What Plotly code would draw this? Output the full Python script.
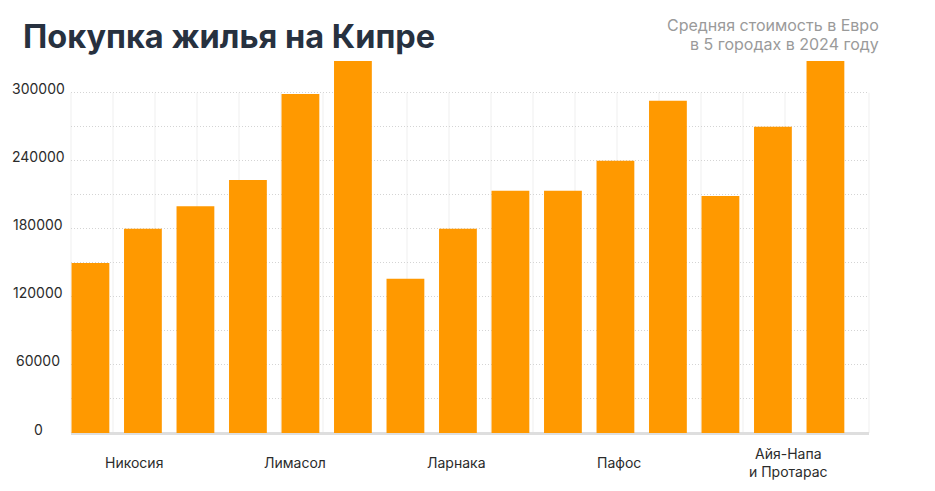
import plotly.graph_objects as go

# average purchase prices, EUR, three bars per city
prices = [150000, 180000, 200000, 223000, 299000, 330000,
          136000, 180000, 213500, 213500, 240000, 293000,
          209000, 270000, 330000]
bar_index = list(range(len(prices)))

cities = ["Никосия", "Лимасол", "Ларнака", "Пафос", "Айя-Напа<br>и Протарас"]
city_pos = [0.83, 3.9, 6.98, 10.07, 13.3]

y_ticks = [0, 60000, 120000, 180000, 240000, 300000]

subtitle = ["Средняя стоимость в Евро", "в 5 городах в 2024 году"]

ORANGE = "#ff9900"
TITLE_COLOR = "#27313f"
TEXT_COLOR = "#2b2b2b"
FONT = "Inter"

W, H = 935, 491
L, R, T, B = 71, 66, 61, 58
plot_w, plot_h = W - L - R, H - T - B

def px_to_paper(x_px, y_px):
    return (x_px - L) / plot_w, (H - B - y_px) / plot_h

fig = go.Figure()

fig.add_bar(x = bar_index, y = prices,
            marker = dict(color = ORANGE, line = dict(width = 0)),
            hoverinfo = "y")

# city names under the groups
for name, pos in zip(cities, city_pos):
    fig.add_annotation(x = pos, y = 0, xref = "x", yref = "y",
                       text = name, showarrow = False,
                       xanchor = "center", yanchor = "middle", yshift = -29,
                       font = dict(family = FONT, size = 14, color = TEXT_COLOR))

# y labels are centred in the left margin, not right aligned
label_x, _ = px_to_paper(38, 0)
for v in y_ticks:
    fig.add_annotation(x = label_x, y = v, xref = "paper", yref = "y",
                       text = str(v), showarrow = False,
                       xanchor = "center", yanchor = "middle", yshift = 4,
                       font = dict(family = FONT, size = 14, color = TEXT_COLOR))

# faint vertical grid, it only goes up to the 300000 line
for i in range(20):
    fig.add_shape(type = "line", xref = "paper", yref = "y",
                  x0 = i / 19, x1 = i / 19, y0 = 0, y1 = 300000,
                  line = dict(color = "#efefef", width = 1), layer = "below")

# two-line note top right, each line placed on its own
for line, y_px in zip(subtitle, [25, 44]):
    ax, ay = px_to_paper(881, y_px)
    fig.add_annotation(xref = "paper", yref = "paper", x = ax, y = ay,
                       text = line, showarrow = False, xanchor = "right", yanchor = "middle",
                       font = dict(family = FONT, size = 16, color = "#9a9a9a"))

fig.update_layout(
    width = W, height = H,
    margin = dict(l = L, r = R, t = T, b = B),
    paper_bgcolor = "white", plot_bgcolor = "white",
    bargap = 0.28, showlegend = False,
    title = dict(text = "<b>Покупка жилья на Кипре</b>",
                 x = 23 / W, xanchor = "left", xref = "container",
                 y = 1 - 37 / H, yanchor = "middle", yref = "container",
                 font = dict(family = FONT, size = 32.5, color = TITLE_COLOR)),
    font = dict(family = FONT, size = 14, color = TEXT_COLOR),
)

fig.update_xaxes(range = [-0.37, 14.83], showticklabels = False, showgrid = False,
                 zeroline = False, showline = False, ticks = "")

fig.update_yaxes(range = [0, 328000], tickvals = y_ticks, showticklabels = False,
                 showgrid = True, gridcolor = "#d4d4d4", griddash = "1px,2px", gridwidth = 1,
                 minor = dict(dtick = 30000, showgrid = True, gridcolor = "#d4d4d4",
                              griddash = "1px,2px", gridwidth = 1),
                 zeroline = True, zerolinecolor = "#dedede", zerolinewidth = 2.5,
                 ticks = "")

fig.write_html("out.html", config = {"displayModeBar": False},
               post_script = "document.body.style.margin = '0';")
